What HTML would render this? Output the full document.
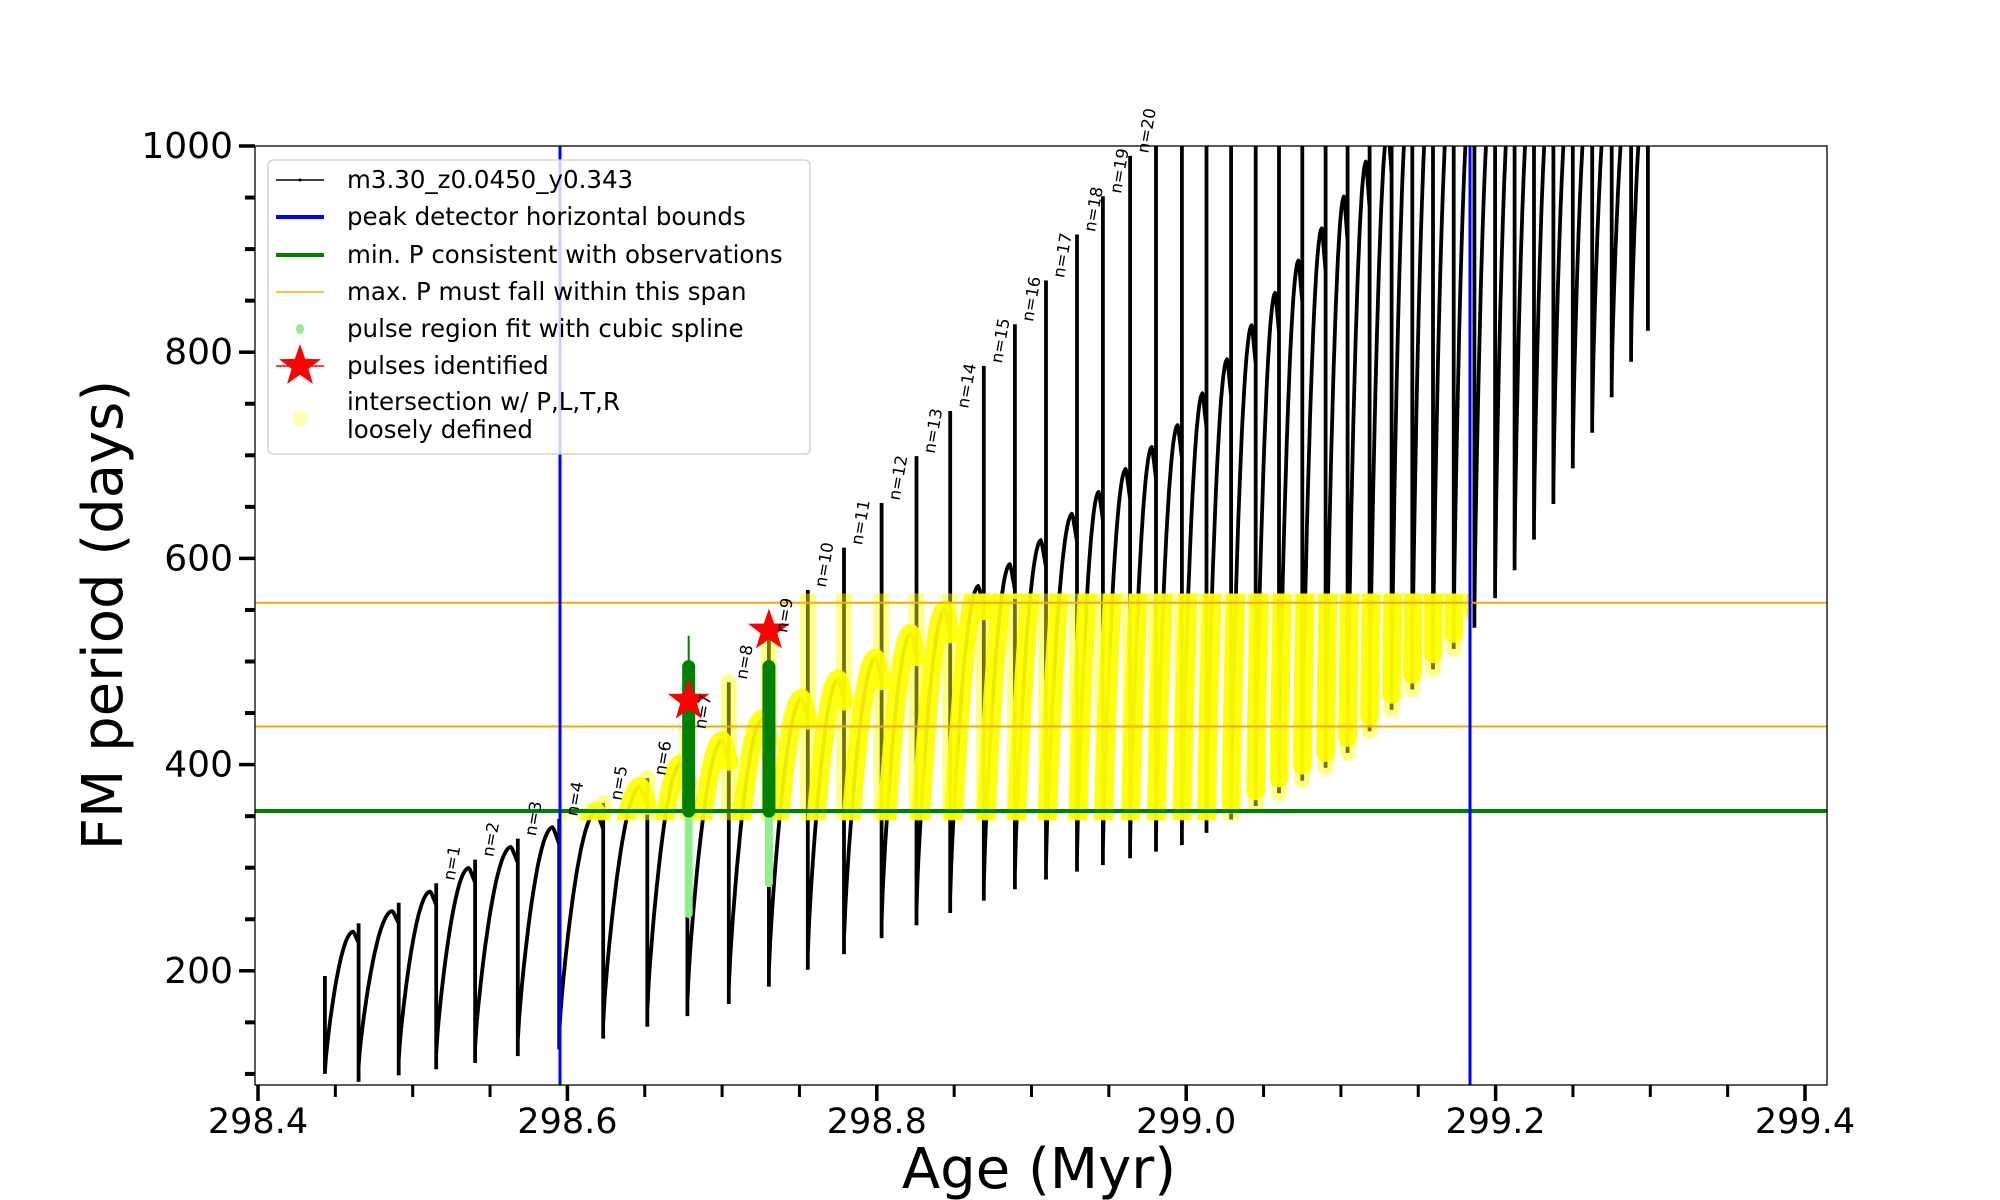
<!DOCTYPE html>
<html><head><meta charset="utf-8"><style>
html,body{margin:0;padding:0;background:#fff;}
svg{display:block;font-family:"DejaVu Sans","Liberation Sans",sans-serif;}
</style></head><body>
<svg id="s" width="2000" height="1200" viewBox="0 0 2000 1200" xmlns="http://www.w3.org/2000/svg">
<defs>
<clipPath id="plot"><rect x="255" y="146" width="1572" height="939"/></clipPath>
<clipPath id="band"><rect x="560" y="0" width="910" height="1200"/></clipPath>
</defs>
<g id="g"></g>
</svg>
<script>
const NS="http://www.w3.org/2000/svg";
const g=document.getElementById('g');
function el(t,a,p){const e=document.createElementNS(NS,t);for(const k in a)e.setAttribute(k,a[k]);(p||g).appendChild(e);return e;}
function X(age){return 258+(age-298.4)*1547;}
function Y(P){return 146+(1000-P)*1.031;}
function A(px){return 298.4+(px-258)/1547;}
function interp(pts,x){if(x<=pts[0][0])return pts[0][1];for(let i=1;i<pts.length;i++){if(x<=pts[i][0]){const a=pts[i-1],b=pts[i];return a[1]+(b[1]-a[1])*(x-a[0])/(b[0]-a[0]);}}return pts[pts.length-1][1];}
const minEnv=[[298.435,100],[298.6,140],[298.7,180],[298.8,245],[298.9,300],[299.0,338],[299.1,420],[299.185,545],[299.22,620],[299.3,840]];
const peakEnv=[[298.45,226],[298.48,250],[298.51,272],[298.535,296],[298.565,318],[298.59,337],[298.62,352],[298.7,420],[298.8,500],[298.9,606],[299.0,733],[299.1,941],[299.15,1060]];
const dispSp=[251,277,308,337,367,400,432,466,500,531,563,594,624,652,681,708,734,760,784,808,832,852,873,893,913,932,951,970,988,1006,1024,1041,1058,1075,1091,1107,1123,1139,1155,1170,1185,1200,1215,1230,1245,1260,1273];
const sp=dispSp.map(d=>A(d*1.2945));
let d1="",d2="";
let spikes=[];
for(let k=0;k<sp.length-1;k++){
  const t0=sp[k],t1=sp[k+1];
  const m=interp(minEnv,t0);
  const p=Math.max(interp(peakEnv,t1),m+30);
  const N=30;
  let seg="";
  for(let i=0;i<=N;i++){
    const u=i/N;
    const f=Math.sin(Math.min(u/0.85,1)*Math.PI/2);
    let P=m+(p-m)*Math.pow(f,0.8);
    if(u>0.85)P-= (p-m)*0.08*((u-0.85)/0.15);
    const t=t0+(t1-t0)*u;
    seg+=(i==0?"M":"L")+X(t).toFixed(1)+","+Y(P).toFixed(1);
  }
  d1+=seg;
  const nm=interp(minEnv,t1);
  const extra=Math.max(8,(t1-298.645)*952);
  const top=p+extra;
  spikes.push([t1,top,nm,k]);
  d2+="M"+X(t1).toFixed(1)+","+Y(nm-15).toFixed(1)+"L"+X(t1).toFixed(1)+","+Y(top).toFixed(1);
}
d2+="M"+X(sp[0])+","+Y(195)+"L"+X(sp[0])+","+Y(100);
const clipG=el('g',{'clip-path':'url(#plot)'});
el('path',{d:d1+d2,fill:'none',stroke:'#000','stroke-width':3.8,'stroke-linejoin':'round'},clipG);
const bandG=el('g',{'clip-path':'url(#band)'},clipG);
const bclip=document.createElementNS(NS,'clipPath');bclip.id='yb';
const r=document.createElementNS(NS,'rect');r.setAttribute('x',0);r.setAttribute('y',Y(566));r.setAttribute('width',2000);r.setAttribute('height',Y(346)-Y(566));bclip.appendChild(r);
document.querySelector('defs').appendChild(bclip);
const yg=el('g',{'clip-path':'url(#yb)'},bandG);
el('path',{d:d2,fill:'none',stroke:'#ffff00','stroke-width':16,'stroke-opacity':0.45,'stroke-linecap':'round'},yg);
el('path',{d:d1,fill:'none',stroke:'#ffff00','stroke-width':19,'stroke-opacity':0.92,'stroke-linejoin':'round','stroke-linecap':'round'},yg);
el('line',{x1:255,x2:1827,y1:Y(557),y2:Y(557),stroke:'#ffa500','stroke-width':2},clipG);
el('line',{x1:255,x2:1827,y1:Y(437),y2:Y(437),stroke:'#ffa500','stroke-width':2},clipG);
el('line',{x1:255,x2:1827,y1:Y(355),y2:Y(355),stroke:'#008000','stroke-width':4},clipG);
el('line',{x1:560,x2:560,y1:146,y2:1085,stroke:'#0000ff','stroke-width':3},clipG);
el('line',{x1:1470,x2:1470,y1:146,y2:1085,stroke:'#0000ff','stroke-width':3},clipG);
[[532*1.2945,495,255,525],[594*1.2945,495,285,495]].forEach(([x,t,lo,sp2])=>{
  el('line',{x1:x,x2:x,y1:Y(355),y2:Y(lo),stroke:'#90ee90','stroke-width':8,'stroke-linecap':'round'},clipG);
  el('line',{x1:x,x2:x,y1:Y(355),y2:Y(sp2),stroke:'#008000','stroke-width':2},clipG);
  el('line',{x1:x,x2:x,y1:Y(355),y2:Y(t),stroke:'#008000','stroke-width':13,'stroke-linecap':'round'},clipG);
});
function star(cx,cy,R,fill,par){let pts=[];for(let i=0;i<10;i++){const a=-Math.PI/2+i*Math.PI/5;const rr=i%2?R*0.4:R;pts.push((cx+rr*Math.cos(a)).toFixed(1)+","+(cy+rr*Math.sin(a)).toFixed(1));}el('polygon',{points:pts.join(' '),fill:fill},par);}
star(532*1.2945,Y(462),22,'#ff0000',clipG);
star(594*1.2945,Y(530),22,'#ff0000',clipG);
spikes.forEach(([t,top,nm,k])=>{
  const n=k-1; if(n<1||n>20)return;
  const x=X(t)+4,y=Y(Math.min(top,1000))-2;
  const tx=el('text',{x:0,y:0,'font-size':16.5,transform:`translate(${x+14},${y}) rotate(-80)`,'text-anchor':'start',fill:'#000'});
  tx.textContent='n='+n;
});
el('rect',{x:255,y:146,width:1572,height:939,fill:'none',stroke:'#000','stroke-width':1.3});
for(let i=0;i<=20;i++){const a=298.4+i*0.05;const x=X(a);const maj=i%4==0;
  el('line',{x1:x,x2:x,y1:1085,y2:1085+(maj?16:12),stroke:'#000','stroke-width':maj?3.5:3});
  if(maj){const t=el('text',{x:x,y:1133,'font-size':35,'text-anchor':'middle'});t.textContent=a.toFixed(1);}
}
for(let P=100;P<=1000;P+=50){const y=Y(P);const maj=P%200==0;
  el('line',{x1:255,x2:255-(maj?16:10),y1:y,y2:y,stroke:'#000','stroke-width':maj?3.5:4});
  if(maj){const t=el('text',{x:233,y:y+12,'font-size':36,'text-anchor':'end'});t.textContent=P;}
}
let t=el('text',{x:0,y:0,'font-size':56,'text-anchor':'middle',transform:'translate(122,615) rotate(-90)'});t.textContent='FM period (days)';
t=el('text',{x:1039,y:1188,'font-size':56,'text-anchor':'middle'});t.textContent='Age (Myr)';
el('rect',{x:268,y:160,width:542,height:294,rx:5,fill:'#fff','fill-opacity':0.8,stroke:'#cccccc','stroke-width':1.3});
const L=[180,217,255,292,329,366];
el('line',{x1:276,x2:324,y1:L[0],y2:L[0],stroke:'#000','stroke-width':1.5});el('circle',{cx:300,cy:L[0],r:1.5});
el('line',{x1:276,x2:324,y1:L[1],y2:L[1],stroke:'#0000ff','stroke-width':4});
el('line',{x1:276,x2:324,y1:L[2],y2:L[2],stroke:'#008000','stroke-width':4});
el('line',{x1:276,x2:324,y1:L[3],y2:L[3],stroke:'#ffa500','stroke-width':1.5});
el('ellipse',{cx:300,cy:L[4],rx:4,ry:5,fill:'#90ee90'});
el('line',{x1:276,x2:324,y1:L[5],y2:L[5],stroke:'#ff0000','stroke-width':1.5});star(300,L[5],22,'#ff0000',g);
el('ellipse',{cx:300,cy:418,rx:7,ry:8,fill:'#ffffaa'});
const labs=['m3.30_z0.0450_y0.343','peak detector horizontal bounds','min. P consistent with observations','max. P must fall within this span','pulse region fit with cubic spline','pulses identified'];
labs.forEach((s,i)=>{const tt=el('text',{x:347,y:L[i]+8,'font-size':24.5});tt.textContent=s;});
t=el('text',{x:347,y:410,'font-size':24.5});t.textContent='intersection w/ P,L,T,R';
t=el('text',{x:347,y:438,'font-size':24.5});t.textContent='loosely defined';
</script>
</body></html>
